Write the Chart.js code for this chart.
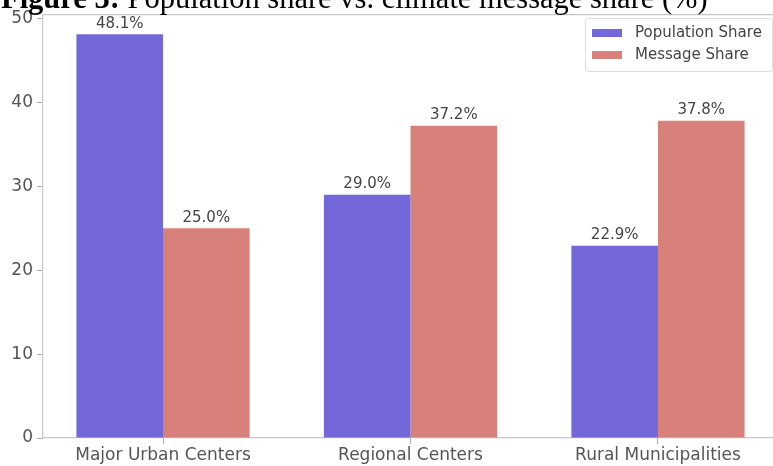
<!DOCTYPE html>
<html>
<head>
<meta charset="utf-8">
<script src="https://cdn.jsdelivr.net/npm/chart.js@4.4.1/dist/chart.umd.min.js"></script>
<style>
  html, body { margin:0; padding:0; background:#fff; overflow:hidden; width:773px; height:466px; }
  #wrap { position:absolute; left:0; top:0; width:790px; height:466px; }
</style>
</head>
<body>
<div id="wrap"><canvas id="c"></canvas></div>
<script>
const categories = ["Major Urban Centers", "Regional Centers", "Rural Municipalities"];
const populationShare = [48.1, 29.0, 22.9];
const messageShare = [25.0, 37.2, 37.8];
const seriesNames = ["Population Share", "Message Share"];
const yTicks = [0, 10, 20, 30, 40, 50];
const titleBold = "Figure 3:";
const titleRest = " Population share vs. climate message share (%)";

const colors = ["#7467DA", "#D8807A"];
const tickFont = { family: "DejaVu Sans", size: 17 };

const overlay = {
  id: "overlay",
  afterDraw(chart) {
    const ctx = chart.ctx;
    const a = chart.chartArea;
    ctx.save();
    // top spine
    ctx.strokeStyle = "#c8c8c8";
    ctx.lineWidth = 1.2;
    ctx.beginPath();
    ctx.moveTo(a.left, a.top + 0.5);
    ctx.lineTo(a.right, a.top + 0.5);
    ctx.stroke();
    // value labels
    ctx.font = "15px 'DejaVu Sans'";
    ctx.fillStyle = "#444";
    ctx.textAlign = "center";
    ctx.textBaseline = "bottom";
    chart.data.datasets.forEach((ds, di) => {
      const meta = chart.getDatasetMeta(di);
      meta.data.forEach((bar, i) => {
        ctx.fillText(ds.data[i].y.toFixed(1) + "%", bar.x, bar.y - 3);
      });
    });
    // legend
    const lx = 585, ly = 18, lw = 187, lh = 53;
    ctx.fillStyle = "rgba(255,255,255,0.85)";
    ctx.strokeStyle = "#dcdcdc";
    ctx.lineWidth = 1;
    ctx.beginPath();
    ctx.roundRect(lx + 0.5, ly + 0.5, lw, lh, 3);
    ctx.fill();
    ctx.stroke();
    ctx.textAlign = "left";
    ctx.textBaseline = "middle";
    ctx.font = "15px 'DejaVu Sans'";
    chart.data.datasets.forEach((ds, di) => {
      const cy = ly + 15 + di * 22;
      ctx.fillStyle = ds.backgroundColor;
      ctx.fillRect(lx + 7, cy - 4, 30, 8);
      ctx.fillStyle = "#444";
      ctx.fillText(ds.label, lx + 50, cy);
    });
    // title
    ctx.fillStyle = "#000";
    ctx.textBaseline = "alphabetic";
    ctx.font = "bold 30.5px 'Liberation Serif'";
    ctx.fillText(titleBold, 1, 8);
    const w = ctx.measureText(titleBold).width;
    ctx.font = "30.5px 'Liberation Serif'";
    ctx.fillText(titleRest, 1 + w, 8);
    ctx.restore();
  }
};

new Chart(document.getElementById("c"), {
  type: "bar",
  data: {
    datasets: [
      { label: seriesNames[0], data: categories.map((c, i) => ({ x: i, y: populationShare[i] })), backgroundColor: colors[0] },
      { label: seriesNames[1], data: categories.map((c, i) => ({ x: i, y: messageShare[i] })), backgroundColor: colors[1] }
    ]
  },
  options: {
    responsive: true,
    maintainAspectRatio: false,
    animation: false,
    categoryPercentage: 0.7,
    barPercentage: 1.0,
    layout: { padding: { top: 14, right: 12, left: 0, bottom: 0 } },
    plugins: { legend: { display: false }, tooltip: { enabled: false }, title: { display: false } },
    scales: {
      x: {
        type: "linear",
        min: -0.485,
        max: 2.485,
        offset: false,
        afterBuildTicks: (s) => { s.ticks = categories.map((c, i) => ({ value: i })); },
        afterFit: (s) => { s.height = 28; },
        ticks: { callback: (v) => categories[v], color: "#555", font: tickFont, padding: 1, maxRotation: 0, autoSkip: false },
        grid: { offset: false, drawOnChartArea: false, drawTicks: true, tickLength: 6, tickColor: "#aaa" },
        border: { display: true, color: "#c8c8c8", width: 1.2 }
      },
      y: {
        min: 0,
        max: 50.5,
        afterBuildTicks: (s) => { s.ticks = yTicks.map(v => ({ value: v })); },
        afterFit: (s) => { s.width = 43; },
        ticks: { color: "#555", font: tickFont, padding: 4 },
        grid: { drawOnChartArea: false, drawTicks: true, tickLength: 6, tickColor: "#aaa" },
        border: { display: true, color: "#c8c8c8", width: 1.2 }
      }
    }
  },
  plugins: [overlay]
});
</script>
</body>
</html>
